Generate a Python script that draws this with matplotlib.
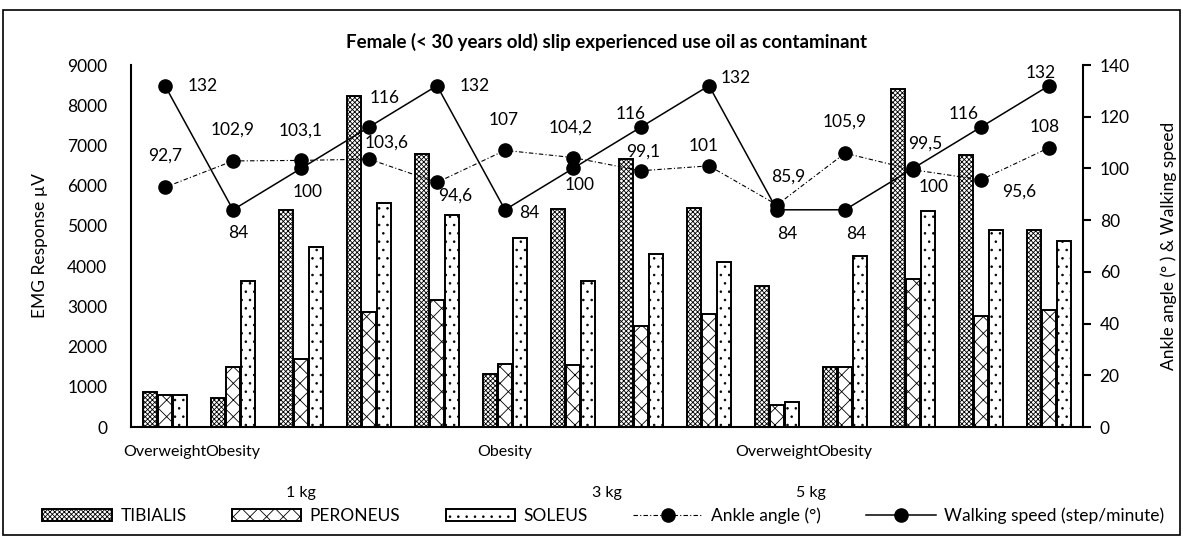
import matplotlib
matplotlib.use("Agg")
import matplotlib.pyplot as plt
import numpy as np
from matplotlib.patches import Rectangle

plt.rcParams['font.family'] = ['Lato', 'DejaVu Sans']
plt.rcParams['hatch.linewidth'] = 0.6

# ---------------- data ----------------
tibialis = [880, 715, 5395, 8240, 6780, 1320, 5430, 6675, 5450, 3500, 1480, 8400, 6760, 4910]
peroneus = [790, 1480, 1690, 2860, 3150, 1570, 1546, 2500, 2820, 550, 1500, 3680, 2750, 2920]
soleus = [790, 3620, 4470, 5580, 5260, 4700, 3640, 4300, 4100, 610, 4240, 5370, 4910, 4620]
ankle_angle = [92.7, 102.9, 103.1, 103.6, 94.6, 107, 104.2, 99.1, 101, 85.9, 105.9, 99.5, 95.6, 108]
walking_speed = [132, 84, 100, 116, 132, 84, 100, 116, 132, 84, 84, 100, 116, 132]
level1_labels = ["Overweight", "Obesity", "Obesity", "Overweight", "Obesity"]
level2_labels = ["1 kg", "3 kg", "5 kg"]

# ---------------- layout / style ----------------
level1_pos = [0, 1, 5, 9, 10]
level2_pos = [2, 6.5, 9.5]
walk_off = [(38, 0), (5, -23), (7, -24), (16, 29), (38, 0), (24, -3), (7, -17),
            (-10, 13), (27, 8), (10, -24), (11, -24), (21, -19), (-17, 13), (-8, 13)]
ankle_off = [(0, 32), (0, 31), (0, 30), (18, 16), (18, -13), (-1, 30), (-2, 30),
             (2, 19), (-5, 20), (11, 28), (0, 32), (12, 26), (38, -12), (-4, 21)]

W, H = 1183, 538
fig = plt.figure(figsize=(W / 100, H / 100), dpi=100)
ax = fig.add_axes([131 / W, 1 - 427 / H, (1083 - 131) / W, (427 - 65) / H])
ax2 = ax.twinx()

n = len(tibialis)
x = np.arange(n)
bw = 0.196
step = 0.22
FS = 12.5

ax.bar(x - step, tibialis, bw, facecolor='white', edgecolor='black', hatch='xxxxxxx', linewidth=1.4, label='TIBIALIS')
ax.bar(x, peroneus, bw, facecolor='white', edgecolor='black', hatch='xx', linewidth=1.4, label='PERONEUS')
ax.bar(x + step, soleus, bw, facecolor='white', edgecolor='black', hatch='..', linewidth=1.4, label='SOLEUS')

l1, = ax2.plot(x, ankle_angle, color='black', linestyle=(0, (4, 2, 1, 2)), linewidth=0.8,
               marker='o', markersize=9.5, label='Ankle angle (°)')
l2, = ax2.plot(x, walking_speed, color='black', linestyle='-', linewidth=1.1,
               marker='o', markersize=9.5, label='Walking speed (step/minute)')

def fmt(v):
    s = ('%g' % v)
    return s.replace('.', ',')

for i, v in enumerate(walking_speed):
    ax2.annotate(fmt(v), (x[i], v), xytext=walk_off[i], textcoords='offset pixels',
                 ha='center', va='center', fontsize=FS)
for i, v in enumerate(ankle_angle):
    ax2.annotate(fmt(v), (x[i], v), xytext=ankle_off[i], textcoords='offset pixels',
                 ha='center', va='center', fontsize=FS)

ax.set_xlim(-0.5, n - 0.5)
ax.set_ylim(0, 9000)
ax.set_yticks(np.arange(0, 9001, 1000))
ax2.set_ylim(0, 140)
ax2.set_yticks(np.arange(0, 141, 20))
ax.set_xticks([])

for s in ['top']:
    ax.spines[s].set_visible(False)
    ax2.spines[s].set_visible(False)
ax.spines['right'].set_visible(False)
ax2.spines['left'].set_visible(False)
ax2.spines['bottom'].set_visible(False)
ax.spines['left'].set_linewidth(1.5)
ax.spines['bottom'].set_linewidth(1.5)
ax2.spines['right'].set_linewidth(1.5)
ax.tick_params(axis='y', length=0, labelsize=FS, pad=17)
ax2.tick_params(axis='y', length=6, width=1.5, direction='out', labelsize=FS, pad=6)

ax.set_ylabel('EMG Response µV', fontsize=FS, labelpad=14)
ax2.set_ylabel('Ankle angle (° ) & Walking speed', fontsize=FS, labelpad=22)

ax.set_title('Female (< 30 years old) slip experienced use oil as contaminant',
             fontsize=13.5, fontweight='bold', pad=12)

trans = ax.get_xaxis_transform()
for p, t in zip(level1_pos, level1_labels):
    ax.text(p, -0.069, t, transform=trans, ha='center', va='center', fontsize=11.5)
for p, t in zip(level2_pos, level2_labels):
    ax.text(p, -0.183, t, transform=trans, ha='center', va='center', fontsize=11.5)

handles = ax.get_legend_handles_labels()[0] + [l1, l2]
labels = ['TIBIALIS', 'PERONEUS', 'SOLEUS', 'Ankle angle (°)', 'Walking speed (step/minute)']
fig.legend(handles, labels, loc='center', bbox_to_anchor=(0.51, 1 - 516 / H), ncol=5,
           frameon=False, fontsize=FS, handlelength=4.0, handleheight=0.7,
           columnspacing=2.6, handletextpad=0.5)

fig.patches.append(Rectangle((3 / W, 3 / H), (W - 6) / W, (H - 13) / H, transform=fig.transFigure,
                             fill=False, edgecolor='black', linewidth=1.2))

fig.savefig('out.png', dpi=100)
